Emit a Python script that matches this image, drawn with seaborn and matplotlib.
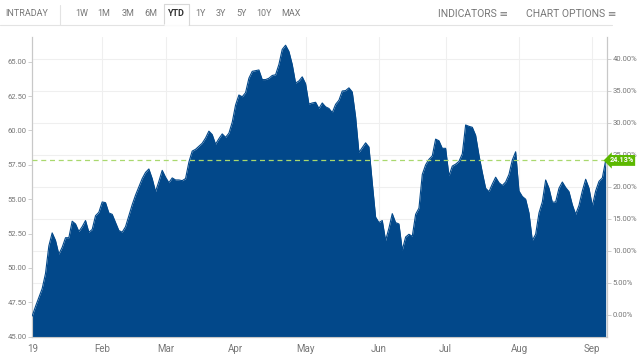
import numpy as np
import pandas as pd
import matplotlib
matplotlib.use("Agg")
import matplotlib.pyplot as plt
import seaborn as sns

# --------------------------
# Data (YTD closes, one per trading day)
# --------------------------
closes = [
    46.5, 47.2, 47.85, 48.5, 49.6, 51.6, 52.55, 52.0, 51.0, 51.5,
    52.2, 52.2, 53.4, 53.2, 52.65, 53.0, 53.45, 52.6, 52.8, 53.8,
    54.05, 54.8, 54.75, 54.0, 53.9, 53.3, 52.72, 52.6, 53.0, 53.8,
    54.6, 55.3, 55.9, 56.5, 56.95, 57.2, 56.5, 55.55, 56.3, 57.1,
    56.6, 56.2, 56.55, 56.4, 56.4, 56.35, 56.5, 57.7, 58.5, 58.63,
    58.85, 59.07, 59.45, 59.95, 59.7, 59.0, 59.4, 59.75, 59.5, 59.8,
    60.6, 61.85, 62.58, 62.45, 62.75, 63.8, 64.3, 64.35, 64.4, 63.7,
    63.7, 63.8, 64.0, 64.05, 64.8, 65.9, 66.2, 65.75, 64.8, 63.45,
    63.6, 63.9, 63.4, 61.92, 62.0, 62.05, 61.6, 62.0, 61.72, 61.6,
    61.3, 61.9, 62.2, 62.87, 62.9, 63.1, 62.8, 61.0, 58.4, 58.75,
    59.1, 58.8, 56.2, 53.7, 53.3, 53.45, 52.0, 52.9, 53.95, 53.3,
    53.2, 51.3, 52.25, 52.45, 52.3, 53.9, 54.35, 56.8, 57.5, 57.9,
    58.15, 59.37, 59.25, 58.7, 58.7, 56.7, 57.41, 57.55, 57.75, 58.3,
    60.4, 60.3, 60.23, 59.65, 58.2, 56.95, 55.8, 55.55, 56.1, 56.6,
    56.2, 56.0, 56.25, 56.8, 57.85, 58.45, 55.6, 55.2, 55.0, 54.0,
    52.0, 52.45, 54.0, 54.8, 56.4, 55.8, 54.78, 54.8, 55.8, 56.25,
    55.85, 55.55, 54.6, 53.9, 54.55, 55.6, 56.45, 55.8, 54.5, 55.6,
    56.3, 56.55, 57.82,
]
base_close = 46.58          # last close of 2018, 0% on the right axis
change_label = "24.13%"

month_labels = ["19", "Feb", "Mar", "Apr", "May", "Jun", "Jul", "Aug", "Sep"]
month_start_idx = [0, 21, 40, 61, 82, 104, 124, 146, 168]

left_ticks = [45.0, 47.5, 50.0, 52.5, 55.0, 57.5, 60.0, 62.5, 65.0]
right_ticks = [0, 5, 10, 15, 20, 25, 30, 35, 40]

range_buttons = ["1W", "1M", "3M", "6M", "YTD", "1Y", "3Y", "5Y", "10Y", "MAX"]

# --------------------------
# Style
# --------------------------
sns.set_style("white")
plt.rcParams["font.family"] = ["Liberation Sans Narrow", "Roboto", "DejaVu Sans"]

FILL = "#02488a"
GRID = "#efefef"
SPINE = "#c8c8c8"
TXT = "#777777"

df = pd.DataFrame({"idx": np.arange(len(closes)), "close": closes})

fig = plt.figure(figsize=(6.4, 3.61), dpi=100)
ax = fig.add_axes([32 / 640, 1 - 336.7 / 361, 575 / 640, 300 / 361])

ymin, ymax = 45.0, 66.82
ax.fill_between(df["idx"], df["close"], ymin, color=FILL, lw=0, zorder=2)
sns.lineplot(data=df, x="idx", y="close", ax=ax, color=FILL, lw=0.8, zorder=3)
ax.set_xlim(-0.05, len(closes) - 0.6)
ax.set_ylim(ymin, ymax)

# right axis: % change vs base
ax2 = ax.twinx()
ax2.set_ylim((ymin / base_close - 1) * 100, (ymax / base_close - 1) * 100)
ax2.set_yticks(right_ticks)
ax2.set_yticklabels([f"{t:.2f}%" for t in right_ticks])
for t in right_ticks:
    ax.axhline(base_close * (1 + t / 100), color=GRID, lw=0.8, zorder=1)

for i in month_start_idx[1:]:
    ax.axvline(i, color=GRID, lw=0.8, zorder=1)

ax.set_yticks(left_ticks)
ax.set_yticklabels([f"{t:.2f}" for t in left_ticks])
ax.set_xticks(month_start_idx)
ax.set_xticklabels(month_labels)
ax.set_xlabel("")
ax.set_ylabel("")

ax.tick_params(axis="y", labelsize=5.5, colors=TXT, length=3, width=0.6, pad=1, color=SPINE)
ax.tick_params(axis="x", labelsize=7, colors=TXT, length=3, width=0.6, pad=2, color=SPINE)
ax2.tick_params(axis="y", labelsize=5.5, colors=TXT, length=3, width=0.6, pad=1, color=SPINE)
for a in (ax, ax2):
    for side in ["left", "right", "bottom", "top"]:
        a.spines[side].set_color(SPINE)
        a.spines[side].set_linewidth(0.8)
    a.spines["top"].set_visible(False)
ax.set_zorder(ax2.get_zorder() + 1)
ax.patch.set_visible(False)

# last-close reference line and tag
last = closes[-1]
ax.axhline(last, color="#a9d86e", lw=0.9, ls=(0, (4, 3)), zorder=4)
ax.annotate(change_label, xy=(1.0, last), xycoords=("axes fraction", "data"),
            xytext=(10.5, 0), textcoords="offset points", ha="center", va="center",
            fontsize=5.2, fontweight="bold", color="white", annotation_clip=False,
            bbox=dict(boxstyle="larrow,pad=0.2", fc="#5cb800", ec="none"), zorder=6)

# --------------------------
# Top toolbar
# --------------------------
fig.text(5 / 640, 1 - 14 / 361, "INTRADAY", fontsize=6.5, color=TXT, va="center")
fig.add_artist(plt.Line2D([60 / 640, 60 / 640], [1 - 5 / 361, 1 - 25 / 361],
                          color="#e3e3e3", lw=0.8))
fig.add_artist(plt.Line2D([0, 612 / 640], [1 - 25 / 361, 1 - 25 / 361],
                          color="#e3e3e3", lw=0.8))
btn_x = [82, 104, 128, 151, 176, 200, 221, 242, 264, 291]
for name, bx in zip(range_buttons, btn_x):
    active = name == "YTD"
    fig.text(bx / 640, 1 - 14 / 361, name, fontsize=6.5, ha="center", va="center",
             color="#333333" if active else TXT, fontweight="bold" if active else "normal")
yx0, yx1 = 164 / 640, 189 / 640
fig.add_artist(plt.Line2D([yx0, yx0, yx1, yx1],
                          [1 - 25 / 361, 1 - 4 / 361, 1 - 4 / 361, 1 - 25 / 361],
                          color="#d8d8d8", lw=0.8))
fig.add_artist(plt.Line2D([yx0 + 0.001, yx1 - 0.001], [1 - 25 / 361, 1 - 25 / 361],
                          color="white", lw=1.2))
fig.text(508 / 640, 1 - 14 / 361, "INDICATORS \u2261", fontsize=7.5, ha="right",
         va="center", color=TXT)
fig.text(616 / 640, 1 - 14 / 361, "CHART OPTIONS \u2261", fontsize=7.5, ha="right",
         va="center", color=TXT)

fig.savefig("out.png", dpi=100)
